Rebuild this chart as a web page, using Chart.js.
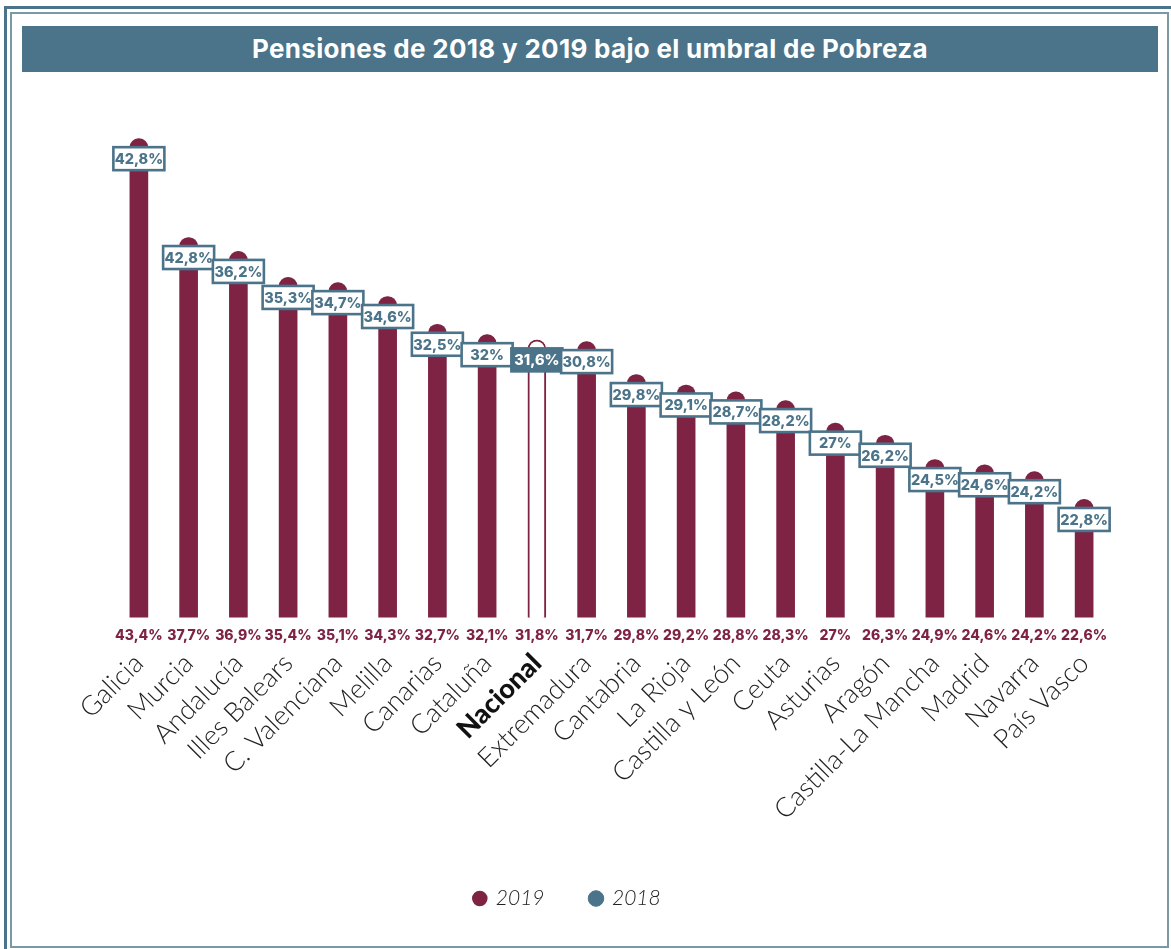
<!DOCTYPE html>
<html>
<head>
<meta charset="utf-8">
<script src="https://cdn.jsdelivr.net/npm/chart.js@4.4.1/dist/chart.umd.min.js"></script>
<style>
  html, body { margin: 0; padding: 0; background: #fff; }
  body { width: 1171px; height: 949px; position: relative; overflow: hidden; }
  .frame-outer { position: absolute; left: 4px; top: 6px; width: 1167px; height: 943px; border-top: 3px solid #4b7389; border-left: 3px solid #4b7389; box-sizing: border-box; }
  .frame-inner { position: absolute; left: 10px; top: 12px; width: 1159px; height: 936px; border: 2px solid #7b98a7; box-sizing: border-box; }
  .title { position: absolute; left: 22px; top: 26px; width: 1136px; height: 46px; background: #4b7389; color: #fff; font: 700 26px Inter, sans-serif; letter-spacing: 0.3px; text-align: center; line-height: 46px; }
  .chart-box { position: absolute; left: 14px; top: 80px; width: 1150px; height: 866px; }
</style>
</head>
<body>
<div class="frame-outer"></div>
<div class="frame-inner"></div>
<div class="title">Pensiones de 2018 y 2019 bajo el umbral de Pobreza</div>
<div class="chart-box"><canvas id="barChart"></canvas></div>
<script>
const regions = ['Galicia', 'Murcia', 'Andalucía', 'Illes Balears', 'C. Valenciana', 'Melilla', 'Canarias', 'Cataluña', 'Nacional', 'Extremadura', 'Cantabria', 'La Rioja', 'Castilla y León', 'Ceuta', 'Asturias', 'Aragón', 'Castilla-La Mancha', 'Madrid', 'Navarra', 'País Vasco'];
const values2019 = [43.4, 37.7, 36.9, 35.4, 35.1, 34.3, 32.7, 32.1, 31.8, 31.7, 29.8, 29.2, 28.8, 28.3, 27, 26.3, 24.9, 24.6, 24.2, 22.6];
const values2018 = [42.8, 42.8, 36.2, 35.3, 34.7, 34.6, 32.5, 32, 31.6, 30.8, 29.8, 29.1, 28.7, 28.2, 27, 26.2, 24.5, 24.6, 24.2, 22.8];
const nationalName = 'Nacional';

const maroon = '#7e2344';
const steel = '#4b7389';

const fmt = v => String(v).replace('.', ',') + '%';
const isNat = i => regions[i] === nationalName;

// 2019 values under bars + boxed 2018 values on top of bars
const valueLabels = {
    id: 'valueLabels',
    afterDatasetsDraw(chart) {
        const ctx = chart.ctx;
        const bars = chart.getDatasetMeta(0).data;
        const bottom = chart.chartArea.bottom;
        ctx.save();
        ctx.textAlign = 'center';
        ctx.textBaseline = 'middle';
        bars.forEach((bar, i) => {
            ctx.font = '800 14px Inter';
            ctx.fillStyle = maroon;
            ctx.fillText(fmt(values2019[i]), bar.x, bottom + 18);

            const y = bar.y + 20;
            ctx.lineWidth = 2.6;
            ctx.fillStyle = isNat(i) ? steel : '#fff';
            ctx.fillRect(bar.x - 25.5, y - 11.5, 51, 23);
            ctx.strokeStyle = steel;
            ctx.strokeRect(bar.x - 25.5, y - 11.5, 51, 23);
            ctx.fillStyle = isNat(i) ? '#fff' : steel;
            ctx.font = '800 14.5px Inter';
            ctx.fillText(fmt(values2018[i]), bar.x, y + 1);
        });
        ctx.restore();
    }
};

// legend sits a little left of the plot centre and a bit higher in the original
const legendShift = {
    id: 'legendShift',
    afterLayout(chart) {
        chart.legend.left -= 44;
        chart.legend.right -= 44;
        chart.legend.top -= 14;
        chart.legend.bottom -= 14;
    }
};

new Chart(document.getElementById('barChart').getContext('2d'), {
    type: 'bar',
    data: {
        labels: regions,
        datasets: [{
            label: '2019',
            data: values2019,
            backgroundColor: regions.map((r, i) => isNat(i) ? '#fff' : maroon),
            borderColor: maroon,
            borderWidth: regions.map((r, i) => isNat(i) ? 2 : 0),
            borderSkipped: false,
            borderRadius: { topLeft: 9, topRight: 9, bottomLeft: 0, bottomRight: 0 },
            barThickness: 18
        }, {
            type: 'line',
            label: '2018',
            data: values2018,
            backgroundColor: steel,
            borderColor: steel,
            showLine: false,
            pointRadius: 0,
            pointHoverRadius: 0
        }]
    },
    options: {
        responsive: true,
        maintainAspectRatio: false,
        animation: false,
        layout: { padding: { top: 50, left: 100, right: 55, bottom: 13 } },
        plugins: {
            legend: {
                position: 'bottom',
                labels: {
                    usePointStyle: true,
                    pointStyle: 'circle',
                    boxWidth: 11,
                    boxHeight: 11,
                    padding: 46,
                    color: '#222',
                    font: { family: 'Lato', size: 21, style: 'italic', weight: '300' }
                }
            },
            tooltip: { enabled: false }
        },
        scales: {
            x: {
                grid: { display: false, drawTicks: false },
                border: { display: false },
                ticks: {
                    autoSkip: false,
                    minRotation: 45,
                    maxRotation: 45,
                    padding: 30,
                    color: (c) => isNat(c.index) ? '#111' : '#222',
                    font: (c) => isNat(c.index)
                        ? { family: 'Lato', size: 27, weight: '900' }
                        : { family: 'Lato', size: 27, weight: '300' }
                }
            },
            y: { display: false, min: 15.8, max: 43.9 }
        }
    },
    plugins: [valueLabels, legendShift]
});
</script>
</body>
</html>
